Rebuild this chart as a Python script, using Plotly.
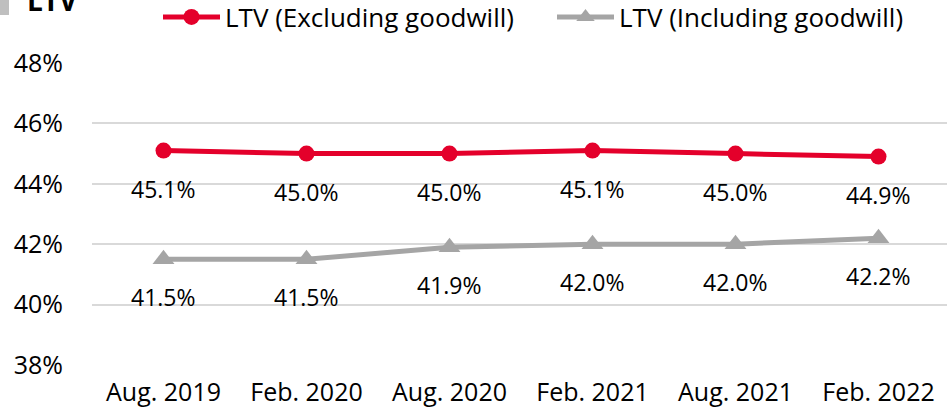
import plotly.graph_objects as go

# Reporting periods
periods = ["Aug. 2019", "Feb. 2020", "Aug. 2020", "Feb. 2021", "Aug. 2021", "Feb. 2022"]

# Loan-to-value ratios (%)
ltv_excl_goodwill = [45.1, 45.0, 45.0, 45.1, 45.0, 44.9]
ltv_incl_goodwill = [41.5, 41.5, 41.9, 42.0, 42.0, 42.2]

y_ticks = [38, 40, 42, 44, 46, 48]

RED = "#E4002B"
GRAY = "#A5A5A5"
FONT = "Open Sans, Noto Sans, sans-serif"

fig = go.Figure()

fig.add_trace(go.Scatter(
    x=periods, y=ltv_excl_goodwill, name="LTV (Excluding goodwill)",
    mode="lines+markers",
    line=dict(color=RED, width=5),
    marker=dict(symbol="circle", size=16, color=RED),
))
fig.add_trace(go.Scatter(
    x=periods, y=ltv_incl_goodwill, name="LTV (Including goodwill)",
    mode="lines+markers",
    line=dict(color=GRAY, width=5),
    marker=dict(symbol="triangle-up", size=19, color=GRAY),
))

# Value labels beneath each point
annotations = []
for series in (ltv_excl_goodwill, ltv_incl_goodwill):
    for p, v in zip(periods, series):
        annotations.append(dict(
            x=p, y=v, xref="x", yref="y", text=f"{v:.1f}%",
            showarrow=False, yshift=-38,
            font=dict(family=FONT, size=23, color="#000000"),
        ))

# Chart heading
annotations.append(dict(
    x=-0.078, y=1.21, xref="paper", yref="paper", text="<b>LTV</b>",
    showarrow=False, xanchor="left", yanchor="middle",
    font=dict(family=FONT, size=28, color="#000000"),
))

fig.update_layout(
    width=947, height=410,
    margin=dict(l=92, r=0, t=63, b=45, autoexpand=False),
    paper_bgcolor="white", plot_bgcolor="white",
    font=dict(family=FONT, size=25, color="#000000"),
    showlegend=True,
    legend=dict(
        orientation="h", x=158 / 947, xref="container", y=1 - 17 / 410, yref="container",
        xanchor="left", yanchor="middle",
        font=dict(family=FONT, size=26, color="#000000"),
        itemwidth=57, entrywidth=322, entrywidthmode="pixels",
        bgcolor="rgba(0,0,0,0)", tracegroupgap=0,
    ),
    xaxis=dict(
        type="category", range=[-0.5, 5.479],
        showgrid=False, zeroline=False, showline=False,
        tickfont=dict(family=FONT, size=25), ticks="", ticklabelstandoff=10,
    ),
    yaxis=dict(
        range=[38, 48], tickvals=y_ticks,
        ticktext=[f"{t}%" for t in y_ticks],
        showgrid=True, gridcolor="#D9D9D9", gridwidth=1.5,
        zeroline=False, showline=False, ticks="",
        tickfont=dict(family=FONT, size=25), ticklabelstandoff=28,
    ),
    annotations=annotations,
    shapes=[dict(
        type="rect", xref="paper", yref="paper",
        x0=-0.1076, x1=-0.0971, y0=1.159, y1=1.3,
        fillcolor="#BFBFBF", line=dict(width=0), layer="above",
    )],
)

fig.write_html("out.html")
